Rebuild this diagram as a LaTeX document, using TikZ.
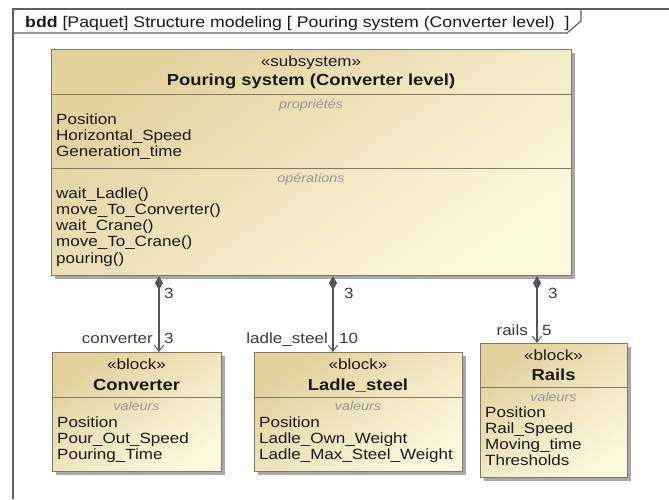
\documentclass[tikz,border=0pt]{standalone}
\usepackage{fontspec}
\setmainfont{Liberation Sans}[FakeStretch=1.15]
\usetikzlibrary{arrows.meta,shadows}
\definecolor{boxA}{RGB}{227,209,158}
\definecolor{boxB}{RGB}{252,248,222}
\definecolor{bordercol}{RGB}{130,120,95}
\definecolor{shadowcol}{RGB}{168,168,168}
\definecolor{linecol}{RGB}{85,85,85}
\definecolor{txtcol}{RGB}{25,25,25}
\definecolor{complab}{RGB}{150,150,150}
\definecolor{framecol}{RGB}{95,95,95}
\begin{document}
\begin{tikzpicture}[x=1pt,y=-1pt,
  blockbox/.style={draw=bordercol, line width=1.1pt, top color=boxA, bottom color=boxB,
    shading angle=35, inner sep=0pt, anchor=north west,
    drop shadow={shadow xshift=3pt, shadow yshift=-3pt, fill=shadowcol, opacity=1}},
  sepline/.style={draw=bordercol, line width=0.9pt},
  txt/.style={inner sep=0pt, anchor=base west, text=txtcol, font=\fontsize{14.8}{16}\selectfont},
  stereo/.style={inner sep=0pt, anchor=base, text=txtcol, font=\fontsize{14.8}{16}\selectfont},
  ttl/.style={inner sep=0pt, anchor=base, text=txtcol, font=\fontsize{16}{18}\selectfont\bfseries},
  complbl/.style={inner sep=0pt, anchor=base, text=complab, font=\fontsize{12.5}{14}\selectfont\itshape},
  mult/.style={inner sep=0pt, text=txtcol!85, font=\fontsize{14.8}{16}\selectfont},
  assoc/.style={draw=linecol, line width=1.1pt,
    {Diamond[length=14pt,width=8pt,fill=linecol]}-{Straight Barb[length=6pt,width=9pt,line width=1pt]}},
  framestyle/.style={draw=framecol, line width=1.2pt}
]
\useasboundingbox (0,0) rectangle (669,499);
\fill[white] (0,0) rectangle (669,499);

% frame
\draw[framestyle] (13,499) -- (13,9) -- (669,9);
\draw[framestyle] (13,33) -- (567,33) -- (581,21) -- (581,9);
\node[txt, font=\fontsize{15.4}{16}\selectfont] (ftitle) at (25,27)
  {\textbf{bdd} [Paquet] Structure modeling [ Pouring system (Converter level)\ \ ]};

% main block
\node[blockbox, minimum width=520pt, minimum height=226pt] (main) at (51,49) {};
\draw[sepline] (main.west |- 0,94) -- (main.east |- 0,94);
\draw[sepline] (main.west |- 0,168) -- (main.east |- 0,168);
\node[stereo] (mst) at (311,66) {«subsystem»};
\node[ttl] (mtt) at (311,85) {Pouring system (Converter level)};
\node[complbl] (mcp) at (311,108) {propriétés};
\node[txt] (mp1) at (56,124.5) {Position};
\node[txt] (mp2) at (56,140.5) {Horizontal\_Speed};
\node[txt] (mp3) at (56,156.5) {Generation\_time};
\node[complbl] (mco) at (311,182) {opérations};
\node[txt] (mo1) at (56,198) {wait\_Ladle()};
\node[txt] (mo2) at (56,214.25) {move\_To\_Converter()};
\node[txt] (mo3) at (56,230.5) {wait\_Crane()};
\node[txt] (mo4) at (56,246.75) {move\_To\_Crane()};
\node[txt] (mo5) at (56,263) {pouring()};

% converter block
\node[blockbox, minimum width=169pt, minimum height=119pt] (conv) at (52,352) {};
\draw[sepline] (conv.west |- 0,397) -- (conv.east |- 0,397);
\node[stereo] (cst) at (136.5,369) {«block»};
\node[ttl] (ctt) at (136.5,390) {Converter};
\node[complbl] (ccp) at (136.5,410) {valeurs};
\node[txt] (cv1) at (57,427) {Position};
\node[txt] (cv2) at (57,443) {Pour\_Out\_Speed};
\node[txt] (cv3) at (57,459) {Pouring\_Time};

% ladle block
\node[blockbox, minimum width=208pt, minimum height=119pt] (ladle) at (254,352) {};
\draw[sepline] (ladle.west |- 0,397) -- (ladle.east |- 0,397);
\node[stereo] (lst) at (358,369) {«block»};
\node[ttl] (ltt) at (358,390) {Ladle\_steel};
\node[complbl] (lcp) at (358,410) {valeurs};
\node[txt] (lv1) at (259,427) {Position};
\node[txt] (lv2) at (259,443) {Ladle\_Own\_Weight};
\node[txt] (lv3) at (259,459) {Ladle\_Max\_Steel\_Weight};

% rails block
\node[blockbox, minimum width=147pt, minimum height=134pt] (rails) at (480,343) {};
\draw[sepline] (rails.west |- 0,387) -- (rails.east |- 0,387);
\node[stereo] (rst) at (553.5,360) {«block»};
\node[ttl] (rtt) at (553.5,380) {Rails};
\node[complbl] (rcp) at (553.5,401) {valeurs};
\node[txt] (rv1) at (485,417) {Position};
\node[txt] (rv2) at (485,433) {Rail\_Speed};
\node[txt] (rv3) at (485,449) {Moving\_time};
\node[txt] (rv4) at (485,465) {Thresholds};

% connectors
\coordinate (c1) at (159,0);
\coordinate (c2) at (333,0);
\coordinate (c3) at (537,0);
\draw[assoc] (main.south -| c1) -- (conv.north -| c1);
\draw[assoc] (main.south -| c2) -- (ladle.north -| c2);
\draw[assoc] (main.south -| c3) -- (rails.north -| c3);

% multiplicities and role names
\node[mult, anchor=base west] (m1a) at (164,298) {3};
\node[mult, anchor=base west] (m1b) at (164,343) {3};
\node[mult, anchor=base east] (r1) at (153,343) {converter};
\node[mult, anchor=base west] (m2a) at (344,298) {3};
\node[mult, anchor=base west] (m2b) at (339,343) {10};
\node[mult, anchor=base east] (r2) at (328,343) {ladle\_steel};
\node[mult, anchor=base west] (m3a) at (548,298) {3};
\node[mult, anchor=base west] (m3b) at (542,335) {5};
\node[mult, anchor=base east] (r3) at (528,335) {rails};
\end{tikzpicture}
\end{document}
